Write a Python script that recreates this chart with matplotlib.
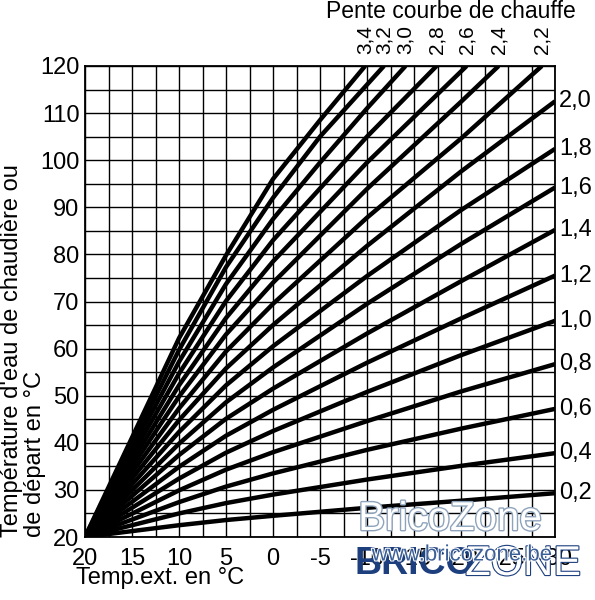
import matplotlib

matplotlib.use("Agg")
import matplotlib.pyplot as plt  # noqa: E402
import matplotlib.patheffects as pe  # noqa: E402

# heating curve slopes and their printed labels
slopes = ["0,2", "0,4", "0,6", "0,8", "1,0", "1,2", "1,4", "1,6", "1,8", "2,0",
          "2,2", "2,4", "2,6", "2,8", "3,0", "3,2", "3,4"]

# outside temperature (°C)
ext_flat = [20, 10, 5, 0, -10, -20, -30]
ext_22 = [20, 10, 5, 0, -10, -20, -28.6]
ext_24 = [20, 10, 5, 0, -10, -20, -24]
ext_26 = [20, 10, 5, 0, -10, -20.6]
ext_28 = [20, 10, 5, 0, -10, -17.4]
ext_30 = [20, 10, 5, 0, -5, -10, -14.1]
ext_32 = [20, 10, 5, 0, -5, -11.8]
ext_34 = [20, 10, 5, 0, -5, -9.8]

# flow temperature (°C)
flow_02 = [20, 22.5, 23.6, 24.5, 26.2, 27.7, 29.3]
flow_04 = [20, 25.0, 27.2, 29.0, 32.2, 35.1, 37.8]
flow_06 = [20, 27.4, 30.7, 33.5, 38.5, 43.0, 47.2]
flow_08 = [20, 29.9, 34.3, 38.0, 44.6, 50.9, 56.7]
flow_10 = [20, 32.4, 37.9, 42.5, 50.8, 58.6, 65.9]
flow_12 = [20, 34.9, 41.5, 47.0, 57.0, 66.4, 75.5]
flow_14 = [20, 37.4, 45.1, 51.5, 63.2, 74.3, 85.2]
flow_16 = [20, 39.8, 48.6, 56.0, 69.5, 82.2, 94.2]
flow_18 = [20, 42.3, 52.2, 60.5, 75.4, 89.4, 102.4]
flow_20 = [20, 44.8, 55.8, 65.0, 81.8, 97.6, 112.5]
flow_22 = [20, 47.3, 59.4, 69.5, 87.8, 104.6, 120]
flow_24 = [20, 49.8, 63.0, 74.0, 93.9, 112.4, 120]
flow_26 = [20, 52.2, 66.5, 78.5, 99.5, 120]
flow_28 = [20, 54.7, 70.1, 83.0, 105.0, 120]
flow_30 = [20, 57.2, 73.7, 87.5, 99.5, 111.0, 120]
flow_32 = [20, 59.7, 77.3, 92.0, 105.0, 120]
flow_34 = [20, 62.2, 79.8, 96.0, 108.5, 120]

curve_ext = [ext_flat] * 10 + [ext_22, ext_24, ext_26, ext_28, ext_30, ext_32, ext_34]
curve_flow = [flow_02, flow_04, flow_06, flow_08, flow_10, flow_12, flow_14, flow_16,
              flow_18, flow_20, flow_22, flow_24, flow_26, flow_28, flow_30, flow_32, flow_34]

x_ticks = [20, 15, 10, 5, 0, -5, -10, -15, -20, -25, -30]
y_ticks = [20, 30, 40, 50, 60, 70, 80, 90, 100, 110, 120]

plt.rcParams["font.family"] = ["Liberation Sans", "DejaVu Sans"]
plt.rcParams["axes.unicode_minus"] = False

fig = plt.figure(figsize=(5.95, 6.0), dpi=100)
ax = fig.add_axes([85 / 595, 1 - 537 / 600, 470 / 595, 471 / 600])

# square grid: every 2.5 °C outside, every 5 °C flow
for gx in range(20, -31, -5):
    ax.axvline(gx, color="black", lw=1.0, zorder=1)
    if gx > -30:
        ax.axvline(gx - 2.5, color="black", lw=1.0, zorder=1)
for gy in range(20, 121, 5):
    ax.axhline(gy, color="black", lw=1.0, zorder=1)

for label, xs, ys in zip(slopes, curve_ext, curve_flow):
    ax.plot(xs, ys, color="black", lw=3.2, solid_capstyle="butt", zorder=3)
    if ys[-1] >= 120:
        ax.annotate(label, xy=(xs[-1], 120), xytext=(0, 9), textcoords="offset points",
                    rotation=90, ha="center", va="bottom", fontsize=15,
                    annotation_clip=False)
    else:
        ax.annotate(label, xy=(xs[-1], ys[-1]), xytext=(3, 0), textcoords="offset points",
                    ha="left", va="center", fontsize=17, annotation_clip=False)

ax.set_xlim(20, -30)
ax.set_ylim(20, 120)
ax.set_xticks(x_ticks)
ax.set_yticks(y_ticks)
ax.tick_params(length=0, labelsize=17)
ax.tick_params(axis="x", pad=8)
ax.tick_params(axis="y", pad=4)
for spine in ax.spines.values():
    spine.set_linewidth(1.3)

fig.text(451 / 595, 1 - 12 / 600, "Pente courbe de chauffe", ha="center", va="center",
         fontsize=16.5)
fig.text(160 / 595, 1 - 578 / 600, "Temp.ext. en °C", ha="center", va="center",
         fontsize=17)
fig.text(0.002, 1 - 537 / 600, "Température d'eau de chaudière ou\nde départ en °C",
         rotation=90, ha="left", va="bottom", multialignment="left", fontsize=17,
         linespacing=1.05)

# BricoZone watermark
outline = [pe.withStroke(linewidth=2.0, foreground="#8ea3bb")]
fig.text(450 / 595, 1 - 519 / 600, "BricoZone", ha="center", va="center", fontsize=29,
         color="white", path_effects=outline)
fig.text(415 / 595, 1 - 564 / 600, "BRICO", ha="center", va="center", fontsize=27,
         fontweight="bold", color="#1d3f7e")
fig.text(523 / 595, 1 - 564 / 600, "ZONE", ha="center", va="center", fontsize=30,
         color="white", path_effects=[pe.withStroke(linewidth=1.6, foreground="#1d3f7e")])
fig.text(462 / 595, 1 - 555 / 600, "www.bricozone.be", ha="center", va="center",
         fontsize=16, color="#3b5f96",
         path_effects=[pe.withStroke(linewidth=1.5, foreground="white")])

fig.savefig("out.png", dpi=100)
